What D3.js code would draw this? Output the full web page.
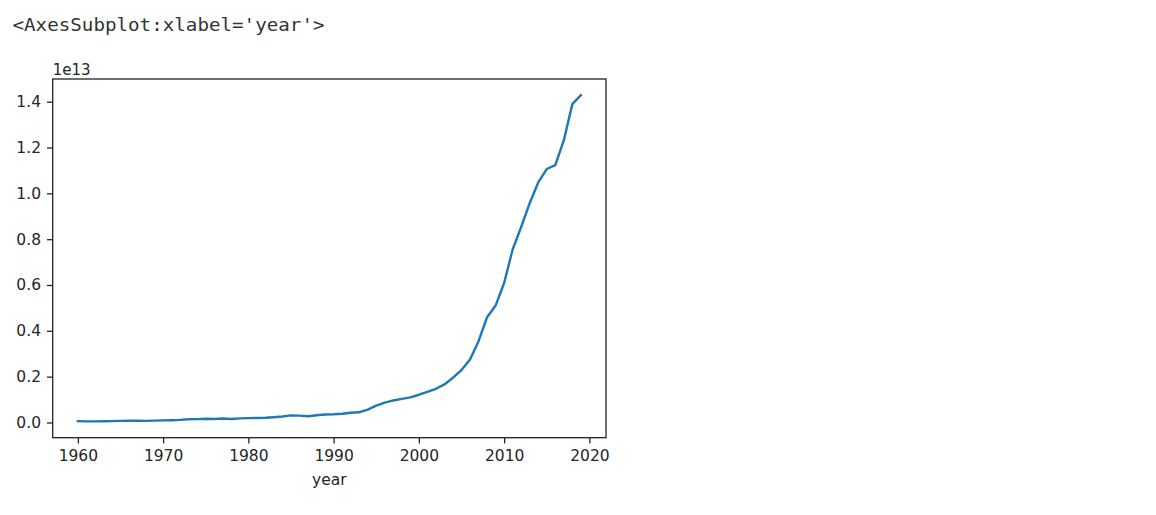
<!DOCTYPE html>
<html>
<head>
<meta charset="utf-8">
<script src="https://cdn.jsdelivr.net/npm/d3@7"></script>
<style>
  html, body { margin: 0; padding: 0; background: #fff; }
  svg { display: block; }
</style>
</head>
<body>
<svg id="chart" width="1156" height="515"></svg>
<script>
// ---- data (China GDP, current US$) ----
const years = d3.range(1960, 2020);
const gdp = [
  5.97e10, 5.00e10, 4.72e10, 5.07e10, 5.97e10, 7.04e10, 7.67e10, 7.29e10, 7.07e10, 7.97e10,
  9.26e10, 9.98e10, 1.137e11, 1.385e11, 1.442e11, 1.630e11, 1.539e11, 1.749e11, 1.495e11, 1.783e11,
  1.911e11, 1.958e11, 2.050e11, 2.303e11, 2.599e11, 3.094e11, 3.007e11, 2.729e11, 3.127e11, 3.477e11,
  3.609e11, 3.834e11, 4.269e11, 4.447e11, 5.643e11, 7.340e11, 8.637e11, 9.615e11, 1.029e12, 1.094e12,
  1.211e12, 1.339e12, 1.471e12, 1.660e12, 1.955e12, 2.286e12, 2.752e12, 3.550e12, 4.594e12, 5.102e12,
  6.087e12, 7.552e12, 8.532e12, 9.570e12, 1.0475e13, 1.1062e13, 1.1233e13, 1.2310e13, 1.3895e13, 1.4280e13
];
const xTicks = [1960, 1970, 1980, 1990, 2000, 2010, 2020];
const yTicks = [0, 0.2e13, 0.4e13, 0.6e13, 0.8e13, 1.0e13, 1.2e13, 1.4e13];
const yTickLabels = ["0.0", "0.2", "0.4", "0.6", "0.8", "1.0", "1.2", "1.4"];
const headerText = "<AxesSubplot:xlabel='year'>";
const xLabel = "year";
const offsetText = "1e13";

// ---- layout ----
const svg = d3.select("#chart");
const L = 52.7, R = 606, T = 79, B = 437.7;
const font = "'DejaVu Sans', sans-serif";
const textColor = "#262626";

const pad = (ext) => { const s = ext[1] - ext[0]; return [ext[0] - 0.05 * s, ext[1] + 0.05 * s]; };
const x = d3.scaleLinear().domain(pad(d3.extent(years))).range([L, R]);
const y = d3.scaleLinear().domain(pad(d3.extent(gdp))).range([B, T]);

// header
svg.append("text")
  .attr("x", 12.5).attr("y", 30.5)
  .attr("font-family", "'DejaVu Sans Mono', monospace")
  .attr("font-size", 18.5)
  .attr("textLength", 312).attr("lengthAdjust", "spacingAndGlyphs")
  .attr("fill", "#333")
  .text(headerText);

// line
const data = years.map((yr, i) => ({ yr, v: gdp[i] }));
svg.append("path")
  .datum(data)
  .attr("fill", "none")
  .attr("stroke", "#1f77b4")
  .attr("stroke-width", 2.4)
  .attr("stroke-linejoin", "round")
  .attr("stroke-linecap", "square")
  .attr("d", d3.line().x(d => x(d.yr)).y(d => y(d.v)));

// x axis
const xAxis = svg.append("g").attr("transform", `translate(0,${B})`)
  .call(d3.axisBottom(x).tickValues(xTicks).tickFormat(d3.format("d")).tickSize(5.7).tickPadding(7));
xAxis.select(".domain").remove();
xAxis.selectAll("line").attr("stroke", "#222").attr("stroke-width", 1.3);
xAxis.selectAll("text").attr("font-family", font).attr("font-size", 15.5).attr("fill", textColor);

// y axis
const yAxis = svg.append("g").attr("transform", `translate(${L},0)`)
  .call(d3.axisLeft(y).tickValues(yTicks).tickFormat((d, i) => yTickLabels[i]).tickSize(5.7).tickPadding(6));
yAxis.select(".domain").remove();
yAxis.selectAll("line").attr("stroke", "#222").attr("stroke-width", 1.3);
yAxis.selectAll("text").attr("font-family", font).attr("font-size", 15.5).attr("fill", textColor);

// frame
svg.append("rect")
  .attr("x", L).attr("y", T).attr("width", R - L).attr("height", B - T)
  .attr("fill", "none").attr("stroke", "#222").attr("stroke-width", 1.3);

// offset text
svg.append("text")
  .attr("x", L).attr("y", 75)
  .attr("font-family", font).attr("font-size", 15).attr("fill", textColor)
  .text(offsetText);

// x label
svg.append("text")
  .attr("x", (L + R) / 2).attr("y", 485)
  .attr("text-anchor", "middle")
  .attr("font-family", font).attr("font-size", 15.5).attr("fill", textColor)
  .text(xLabel);
</script>
</body>
</html>
